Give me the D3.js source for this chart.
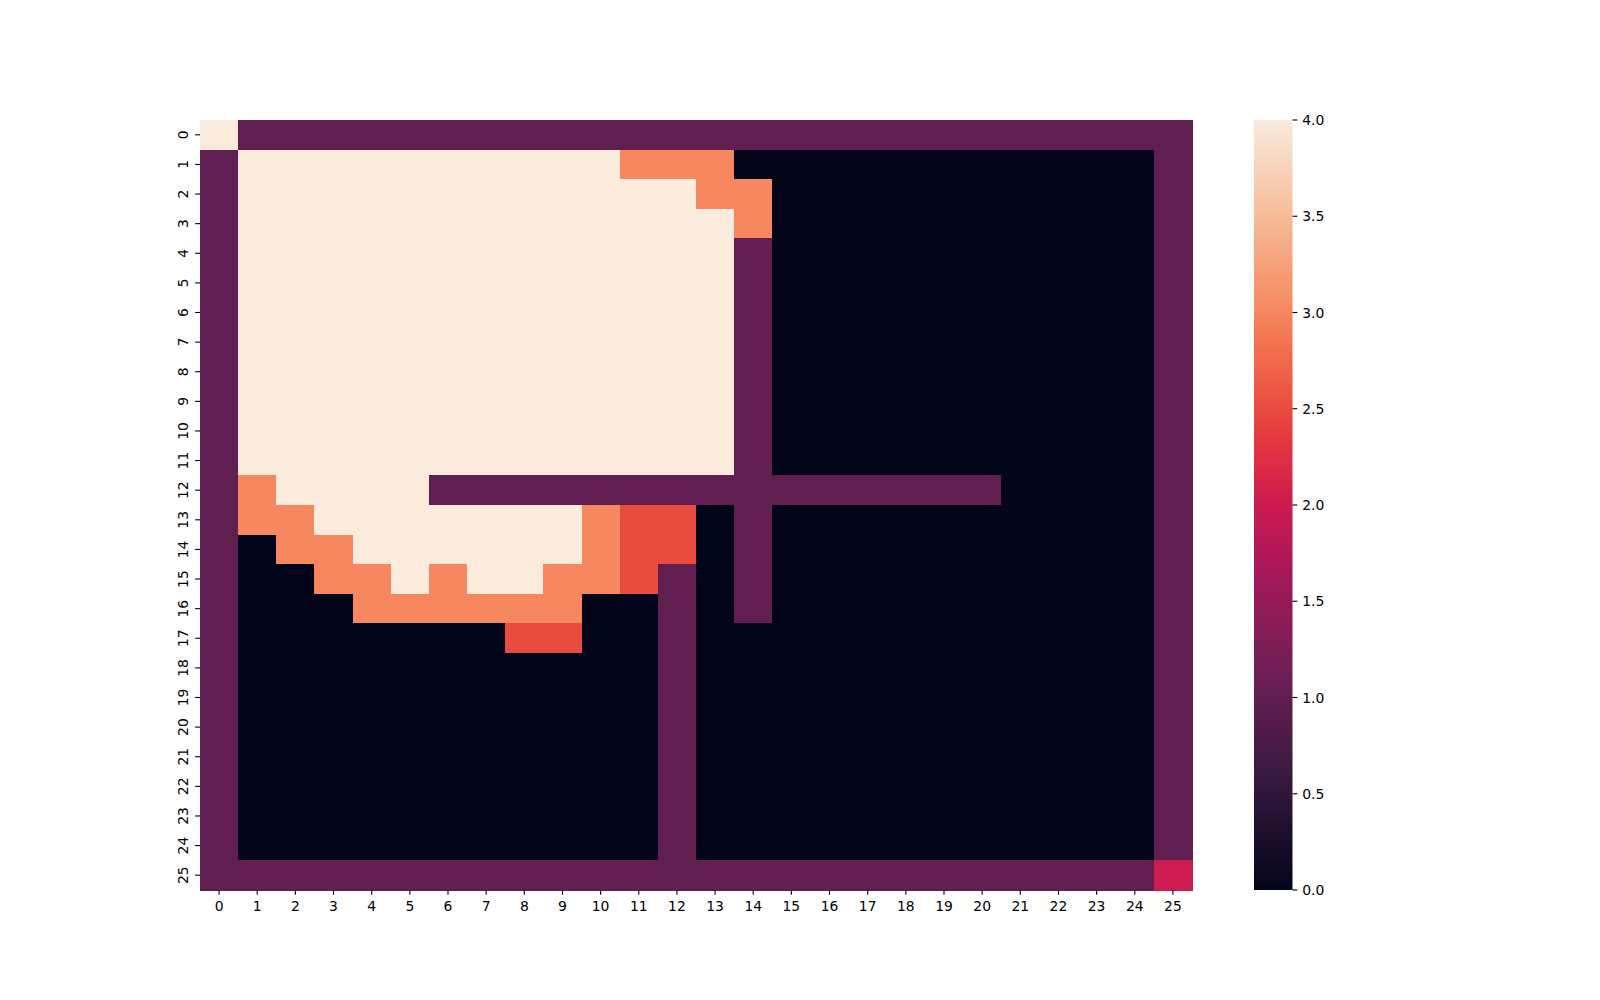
<!DOCTYPE html>
<html>
<head>
<meta charset="utf-8">
<script src="https://cdn.jsdelivr.net/npm/d3@7"></script>
<style>
  html, body { margin: 0; padding: 0; background: #ffffff; }
  svg { display: block; }
  text { font-family: "DejaVu Sans", sans-serif; font-size: 13.9px; fill: #000; }
</style>
</head>
<body>
<svg id="chart" width="1600" height="1000"></svg>
<script>
// ---- data ----
const rowLabels = d3.range(26).map(String);
const colLabels = d3.range(26).map(String);
const cbarTicks = [0, 0.5, 1, 1.5, 2, 2.5, 3, 3.5, 4];

const R = 2.5;
const values = [
  [4,1,1,1,1,1,1,1,1,1,1,1,1,1,1,1,1,1,1,1,1,1,1,1,1,1],
  [1,4,4,4,4,4,4,4,4,4,4,3,3,3,0,0,0,0,0,0,0,0,0,0,0,1],
  [1,4,4,4,4,4,4,4,4,4,4,4,4,3,3,0,0,0,0,0,0,0,0,0,0,1],
  [1,4,4,4,4,4,4,4,4,4,4,4,4,4,3,0,0,0,0,0,0,0,0,0,0,1],
  [1,4,4,4,4,4,4,4,4,4,4,4,4,4,1,0,0,0,0,0,0,0,0,0,0,1],
  [1,4,4,4,4,4,4,4,4,4,4,4,4,4,1,0,0,0,0,0,0,0,0,0,0,1],
  [1,4,4,4,4,4,4,4,4,4,4,4,4,4,1,0,0,0,0,0,0,0,0,0,0,1],
  [1,4,4,4,4,4,4,4,4,4,4,4,4,4,1,0,0,0,0,0,0,0,0,0,0,1],
  [1,4,4,4,4,4,4,4,4,4,4,4,4,4,1,0,0,0,0,0,0,0,0,0,0,1],
  [1,4,4,4,4,4,4,4,4,4,4,4,4,4,1,0,0,0,0,0,0,0,0,0,0,1],
  [1,4,4,4,4,4,4,4,4,4,4,4,4,4,1,0,0,0,0,0,0,0,0,0,0,1],
  [1,4,4,4,4,4,4,4,4,4,4,4,4,4,1,0,0,0,0,0,0,0,0,0,0,1],
  [1,3,4,4,4,4,1,1,1,1,1,1,1,1,1,1,1,1,1,1,1,0,0,0,0,1],
  [1,3,3,4,4,4,4,4,4,4,3,2.5,2.5,0,1,0,0,0,0,0,0,0,0,0,0,1],
  [1,0,3,3,4,4,4,4,4,4,3,2.5,2.5,0,1,0,0,0,0,0,0,0,0,0,0,1],
  [1,0,0,3,3,4,3,4,4,3,3,2.5,1,0,1,0,0,0,0,0,0,0,0,0,0,1],
  [1,0,0,0,3,3,3,3,3,3,0,0,1,0,1,0,0,0,0,0,0,0,0,0,0,1],
  [1,0,0,0,0,0,0,0,2.5,2.5,0,0,1,0,0,0,0,0,0,0,0,0,0,0,0,1],
  [1,0,0,0,0,0,0,0,0,0,0,0,1,0,0,0,0,0,0,0,0,0,0,0,0,1],
  [1,0,0,0,0,0,0,0,0,0,0,0,1,0,0,0,0,0,0,0,0,0,0,0,0,1],
  [1,0,0,0,0,0,0,0,0,0,0,0,1,0,0,0,0,0,0,0,0,0,0,0,0,1],
  [1,0,0,0,0,0,0,0,0,0,0,0,1,0,0,0,0,0,0,0,0,0,0,0,0,1],
  [1,0,0,0,0,0,0,0,0,0,0,0,1,0,0,0,0,0,0,0,0,0,0,0,0,1],
  [1,0,0,0,0,0,0,0,0,0,0,0,1,0,0,0,0,0,0,0,0,0,0,0,0,1],
  [1,0,0,0,0,0,0,0,0,0,0,0,1,0,0,0,0,0,0,0,0,0,0,0,0,1],
  [1,1,1,1,1,1,1,1,1,1,1,1,1,1,1,1,1,1,1,1,1,1,1,1,1,2]
];

// rocket colormap stops
const rocketStops = [
  [0.0, "#03051a"], [1/7, "#35193e"], [2/7, "#701f57"], [3/7, "#ad1759"],
  [0.5, "#cb1b4f"], [4/7, "#e13342"], [0.625, "#e94c3f"], [5/7, "#f37651"],
  [0.75, "#f6875f"], [6/7, "#f6b48f"], [1.0, "#faebdd"]
];
const rocket = d3.scaleLinear()
  .domain(rocketStops.map(d => d[0]))
  .range(rocketStops.map(d => d[1]))
  .interpolate(d3.interpolateRgb);
const color = v => rocket(v / 4);

const svg = d3.select("#chart");
const L = 200, Rt = 1192, T = 120, B = 890;

const x = d3.scaleBand().domain(colLabels).range([L, Rt]).padding(0);
const y = d3.scaleBand().domain(rowLabels).range([T, B]).padding(0);

const cells = [];
values.forEach((row, i) => row.forEach((v, j) => cells.push({r: i, c: j, v})));

svg.append("g").selectAll("rect").data(cells).join("rect")
  .attr("x", d => x(String(d.c)))
  .attr("y", d => y(String(d.r)))
  .attr("width", x.bandwidth() + 0.5)
  .attr("height", y.bandwidth() + 0.5)
  .attr("fill", d => color(d.v))
  .attr("shape-rendering", "crispEdges");

// axes
const tickLen = 4.86, pad = 4.86;
const xAxis = svg.append("g").attr("transform", `translate(0,${B})`);
colLabels.forEach(lab => {
  const cx = x(lab) + x.bandwidth() / 2;
  xAxis.append("line").attr("x1", cx).attr("x2", cx).attr("y1", 0).attr("y2", tickLen)
    .attr("stroke", "#000").attr("stroke-width", 1.1);
  xAxis.append("text").attr("x", cx).attr("y", 21).attr("text-anchor", "middle").text(lab);
});
const yAxis = svg.append("g").attr("transform", `translate(${L},0)`);
rowLabels.forEach(lab => {
  const cy = y(lab) + y.bandwidth() / 2;
  yAxis.append("line").attr("x1", 0).attr("x2", -tickLen).attr("y1", cy).attr("y2", cy)
    .attr("stroke", "#000").attr("stroke-width", 1.1);
  yAxis.append("text").attr("transform", `translate(-12.5,${cy}) rotate(-90)`)
    .attr("text-anchor", "middle").text(lab);
});

// colorbar
const cbL = 1254, cbW = 38.5;
const cy2 = d3.scaleLinear().domain([0, 4]).range([B, T]);
const defs = svg.append("defs");
const grad = defs.append("linearGradient").attr("id", "cbgrad")
  .attr("x1", 0).attr("y1", 1).attr("x2", 0).attr("y2", 0);
d3.range(0, 1.0001, 0.02).forEach(t => {
  grad.append("stop").attr("offset", t).attr("stop-color", rocket(t));
});
svg.append("rect").attr("x", cbL).attr("y", T).attr("width", cbW).attr("height", B - T)
  .attr("fill", "url(#cbgrad)");
const cbAxis = svg.append("g").attr("transform", `translate(${cbL + cbW},0)`);
cbarTicks.forEach(t => {
  cbAxis.append("line").attr("x1", 0).attr("x2", tickLen).attr("y1", cy2(t)).attr("y2", cy2(t))
    .attr("stroke", "#000").attr("stroke-width", 1.1);
  cbAxis.append("text").attr("x", tickLen + pad).attr("y", cy2(t) + 5)
    .text(d3.format(".1f")(t));
});
</script>
</body>
</html>
